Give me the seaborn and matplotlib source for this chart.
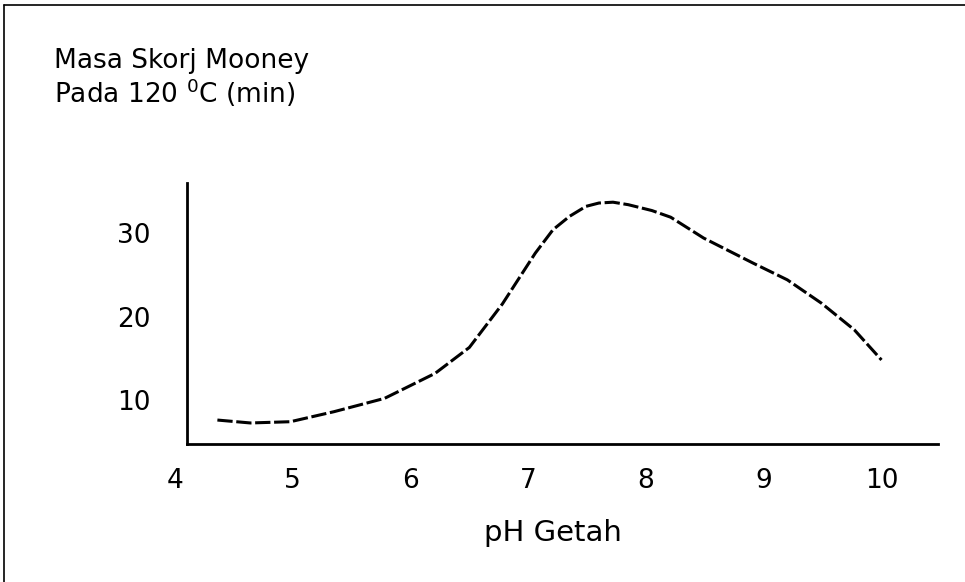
import matplotlib
matplotlib.use("Agg")
import matplotlib.pyplot as plt
import seaborn as sns
from matplotlib.lines import Line2D

# Data
ph_getah = [4.36, 4.64, 4.98, 5.35, 5.78, 6.21, 6.50, 6.78, 7.06, 7.21,
            7.35, 7.49, 7.60, 7.72, 7.85, 8.05, 8.21, 8.49, 8.91, 9.20,
            9.49, 9.77, 10.0]
masa_skorj = [7.6, 7.25, 7.4, 8.6, 10.2, 13.2, 16.3, 21.5, 27.6, 30.4,
              32.0, 33.2, 33.6, 33.7, 33.4, 32.7, 31.9, 29.4, 26.4, 24.4,
              21.6, 18.4, 14.8]
x_ticks = [4, 5, 6, 7, 8, 9, 10]
y_ticks = [10, 20, 30]


def plot_scorch(ph, scorch):
    sns.set_style("white")
    plt.rcParams["font.family"] = ["DejaVu Sans"]
    plt.rcParams["text.color"] = "black"
    plt.rcParams["xtick.color"] = "black"
    plt.rcParams["ytick.color"] = "black"
    plt.rcParams["axes.labelcolor"] = "black"

    fig = plt.figure(figsize=(9.65, 5.82), dpi=100)
    W, H = 965, 582
    # axes box in pixels: x 175..938 (pH 4 .. 10.48), y 183..444
    ax = fig.add_axes([175 / W, 1 - 444 / H, (938 - 175) / W, (444 - 183) / H])

    sns.lineplot(x=ph, y=scorch, ax=ax, color="black", linewidth=2.2,
                 linestyle=(0, (5, 1.2)), sort=False)

    ax.set_xticks(x_ticks)
    ax.set_yticks(y_ticks)
    ax.set_xlim(4.0, 10.48)
    ax.set_ylim(4.73, 36.0)
    ax.tick_params(axis="x", length=0, pad=17, labelsize=19)
    ax.tick_params(axis="y", length=0, pad=26, labelsize=19)

    for side in ["top", "right"]:
        ax.spines[side].set_visible(False)
    for side in ["left", "bottom"]:
        ax.spines[side].set_color("black")
        ax.spines[side].set_linewidth(2)
    # the vertical axis sits a little right of pH 4
    ax.spines["left"].set_position(("data", 4.1))
    ax.spines["bottom"].set_bounds(4.1, 10.48)

    ax.set_xlabel("pH Getah", fontsize=21)
    ax.xaxis.set_label_coords((553 - 175) / (938 - 175), -(519 - 444) / (444 - 183))
    ax.xaxis.label.set_va("top")
    ax.set_ylabel("")

    fig.text(54 / W, 1 - 68 / H, "Masa Skorj Mooney", fontsize=19, va="baseline")
    fig.text(54 / W, 1 - 103 / H, "Pada 120 $^{0}$C (min)", fontsize=19, va="baseline")

    # scanned frame: left and top edges
    fig.add_artist(Line2D([4 / W, 4 / W], [0, 1 - 5 / H], color="black", lw=1.2))
    fig.add_artist(Line2D([4 / W, 1], [1 - 5 / H, 1 - 5 / H], color="black", lw=1.2))

    fig.savefig("out.png", dpi=100)


if __name__ == "__main__":
    plot_scorch(ph_getah, masa_skorj)
